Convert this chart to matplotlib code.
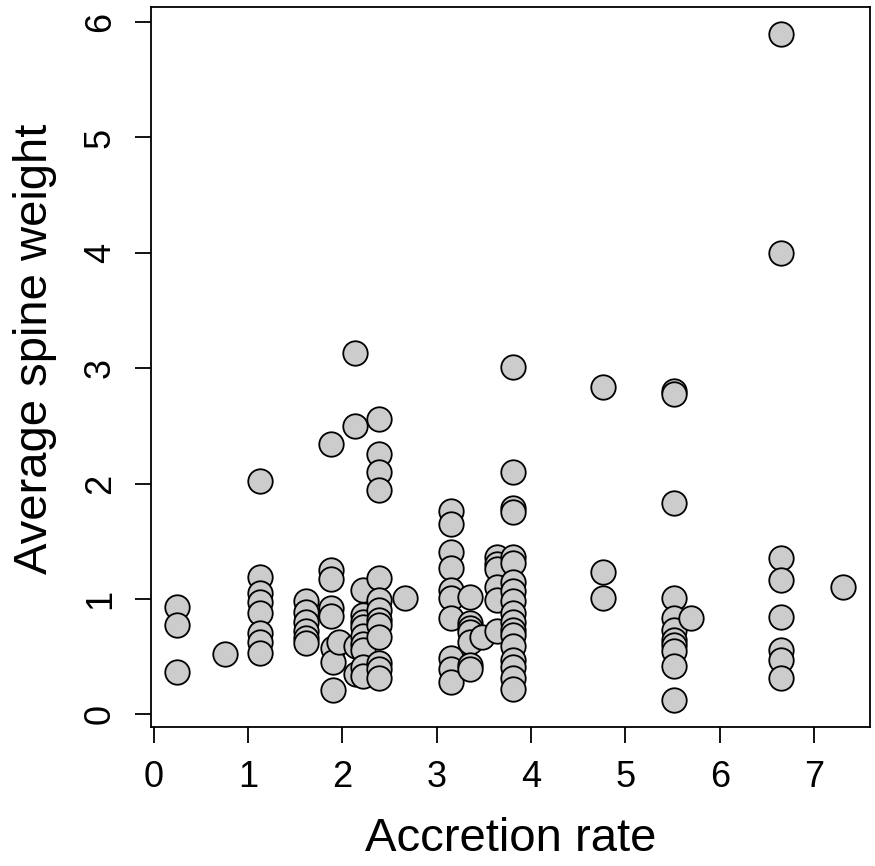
import matplotlib
matplotlib.use("Agg")
import matplotlib.pyplot as plt

# accretion rate / average spine weight
rate = (
    [0.25, 0.25, 0.25, 0.76]
    + [1.13] * 8
    + [1.62] * 6
    + [1.88, 1.88, 1.88, 1.88, 1.88, 1.90, 1.90, 1.90, 1.97]
    + [2.14, 2.14, 2.15, 2.15]
    + [2.22] * 9
    + [2.39] * 13
    + [2.66]
    + [3.15] * 10
    + [3.35] * 7
    + [3.48]
    + [3.64] * 6
    + [3.81] * 18
    + [4.76, 4.76, 4.76]
    + [5.52] * 11
    + [5.70]
    + [6.65] * 8
    + [7.31]
)
weight = (
    [0.93, 0.77, 0.37, 0.52]
    + [2.02, 1.19, 1.05, 0.97, 0.88, 0.70, 0.63, 0.53]
    + [0.98, 0.89, 0.80, 0.72, 0.66, 0.62]
    + [2.34, 1.25, 1.17, 0.92, 0.85, 0.57, 0.45, 0.21, 0.63]
    + [3.13, 2.50, 0.59, 0.35]
    + [1.08, 0.86, 0.80, 0.76, 0.68, 0.61, 0.56, 0.41, 0.33]
    + [2.56, 2.26, 2.10, 1.94, 1.18, 0.99, 0.90, 0.82, 0.77, 0.67, 0.44, 0.39, 0.31]
    + [1.01]
    + [1.76, 1.65, 1.41, 1.27, 1.08, 1.01, 0.83, 0.49, 0.39, 0.28]
    + [1.02, 0.79, 0.75, 0.71, 0.63, 0.43, 0.39]
    + [0.67]
    + [1.36, 1.30, 1.26, 1.10, 0.99, 0.72]
    + [3.01, 2.10, 1.79, 1.75, 1.36, 1.31, 1.15, 1.07, 0.98, 0.88, 0.80,
       0.73, 0.69, 0.59, 0.47, 0.41, 0.31, 0.22]
    + [2.84, 1.23, 1.01]
    + [2.80, 2.78, 1.83, 1.01, 0.83, 0.73, 0.64, 0.60, 0.55, 0.42, 0.12]
    + [0.83]
    + [5.90, 4.00, 1.35, 1.16, 0.84, 0.56, 0.47, 0.31]
    + [1.10]
)

x_ticks = [0, 1, 2, 3, 4, 5, 6, 7]
y_ticks = [0, 1, 2, 3, 4, 5, 6]

plt.rcParams['font.family'] = ['Liberation Sans', 'DejaVu Sans']

fig = plt.figure(figsize=(8.75, 8.66), dpi=100)
ax = fig.add_axes([0.1720, 0.1605, 0.8223, 0.8314])

ax.scatter(rate, weight, s=310, c='#cccccc', edgecolors='black', linewidths=1.3, zorder=3)

# R-style limits: data range padded by 4%
xr = max(rate) - min(rate)
yr = max(weight) - min(weight)
ax.set_xlim(min(rate) - 0.04 * xr, max(rate) + 0.04 * xr)
ax.set_ylim(min(weight) - 0.04 * yr, max(weight) + 0.04 * yr)

ax.set_xticks(x_ticks)
ax.set_yticks(y_ticks)
ax.tick_params(axis='both', direction='out', length=11.5, width=1.3, labelsize=26, pad=12)
for lab in ax.get_yticklabels():
    lab.set_rotation(90)
    lab.set_va('center')

for sp in ax.spines.values():
    sp.set_linewidth(1.3)

ax.set_xlabel("Accretion rate", fontsize=34, labelpad=16)
ax.set_ylabel("Average spine weight", fontsize=34, labelpad=16)
ax.yaxis.set_label_coords(-0.13, 0.525)

fig.savefig("out.png", dpi=100)
